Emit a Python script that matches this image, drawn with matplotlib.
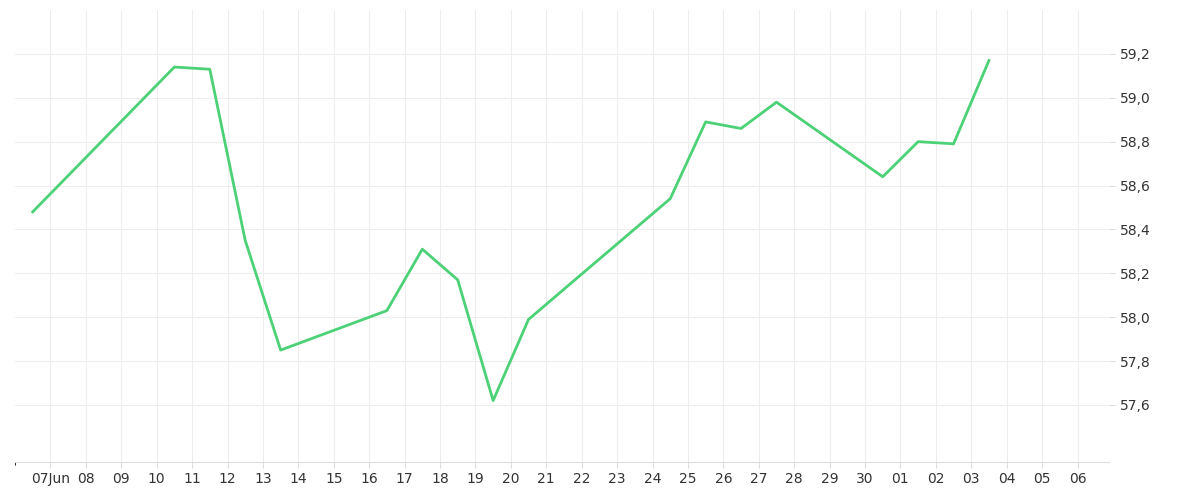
import matplotlib
matplotlib.use('Agg')
import matplotlib.pyplot as plt
import numpy as np

# day index counted from 07 Jun (points sit at mid-day)
days = [-0.5, 3.5, 4.5, 5.5, 6.5, 9.5, 10.5, 11.5, 12.5, 13.5,
        17.5, 18.5, 19.5, 20.5, 23.5, 24.5, 25.5, 26.5]
values = [58.48, 59.14, 59.13, 58.35, 57.85, 58.03, 58.31, 58.17, 57.62, 57.99,
          58.54, 58.89, 58.86, 58.98, 58.64, 58.80, 58.79, 59.17]
tick_labels = ['07Jun', '08', '09', '10', '11', '12', '13', '14', '15', '16', '17',
               '18', '19', '20', '21', '22', '23', '24', '25', '26', '27', '28',
               '29', '30', '01', '02', '03', '04', '05', '06']

fig = plt.figure(figsize=(12, 5), dpi=100)
ax = fig.add_axes([0.0125, 0.076, 0.912, 0.904])
ax.plot(days, values, color='#4cd177', lw=2)

ax.set_xlim(-1, 29.9)
ax.set_ylim(57.34, 59.40)
ax.set_xticks(range(len(tick_labels)))
ax.set_xticklabels(tick_labels)
yt = np.arange(57.6, 59.21, 0.2)
ax.set_yticks(yt)
ax.set_yticklabels([('%.1f' % v).replace('.', ',') for v in yt])
ax.yaxis.tick_right()
ax.tick_params(axis='both', length=4, color='#dddddd', labelsize=10, labelcolor='#333333')
ax.set_xticks(np.arange(-1, 30), minor=True)
ax.grid(True, color='#eeeeee', lw=0.8)
for s in ['top', 'left', 'right']:
    ax.spines[s].set_visible(False)
ax.spines['bottom'].set_color('#dddddd')
fig.savefig('out.png')
